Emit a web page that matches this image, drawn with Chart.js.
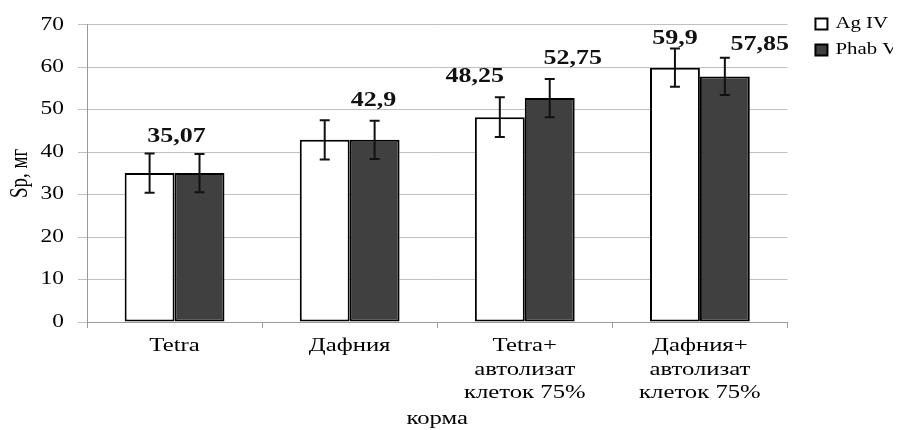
<!DOCTYPE html>
<html>
<head>
<meta charset="utf-8">
<script src="https://cdn.jsdelivr.net/npm/chart.js@4/dist/chart.umd.min.js"></script>
<style>
  html, body { margin: 0; padding: 0; background: #fff; }
  #wrap { width: 913px; height: 430px; }
</style>
</head>
<body>
<div id="wrap"><canvas id="c" width="913" height="430"></canvas></div>
<script>
// Feed types (x categories), one entry per group, split into lines
const categories = [
  ['Tetra'],
  ['Дафния'],
  ['Tetra+', 'автолизат', 'клеток 75%'],
  ['Дафния+', 'автолизат', 'клеток 75%']
];
const seriesNames = ['Ag IV', 'Phab V'];

// Sp, мг per feed
const agIV  = [35.07, 42.9, 48.25, 59.9];
const phabV = [35.07, 42.9, 52.75, 57.85];

// error bar half-widths
const agIVErr  = [4.6, 4.6, 4.7, 4.5];
const phabVErr = [4.5, 4.5, 4.5, 4.4];

// which values get a printed label
const agIVLabeled  = [false, false, true, true];
const phabVLabeled = [true, true, true, true];

const yTicks = [0, 10, 20, 30, 40, 50, 60, 70];
const yTitle = 'Sp, мг';
const xTitle = 'корма';

// label placement relative to the top of each error bar, in px [dx, dy]
const labelNudge = [
  [[0, 0], [0, 0], [-25, -20], [0, -10]],
  [[-23, -17], [-1, -20], [23, -20], [35, -13]]
];

const SERIF = '"Liberation Serif", "Times New Roman", serif';
const TEXT_WIDEN = 1.3;   // horizontal glyph stretch, in screen space

const errors = [agIVErr, phabVErr];
const labeled = [agIVLabeled, phabVLabeled];

const fmt = v => String(v).replace('.', ',');

// Every text run is widened horizontally around its own anchor point,
// whatever rotation is active (so rotated titles get wider glyphs, not longer).
const canvas = document.getElementById('c');
const ctx2d = canvas.getContext('2d');
const baseFillText = ctx2d.fillText.bind(ctx2d);
ctx2d.fillText = function (text, x, y, maxWidth) {
  const m = this.getTransform();
  const p = m.transformPoint(new DOMPoint(x, y));
  const wide = new DOMMatrix()
    .translate(p.x, p.y)
    .scale(TEXT_WIDEN, 1)
    .translate(-p.x, -p.y)
    .multiply(m);
  this.save();
  this.setTransform(wide);
  if (maxWidth !== undefined) baseFillText(text, x, y, maxWidth);
  else baseFillText(text, x, y);
  this.restore();
};

const legendShift = {
  id: 'legendShift',
  afterLayout(chart) {
    const l = chart.legend;
    if (!l) return;
    const dx = 18, dy = -16;
    l.left += dx; l.right += dx;
    l.top += dy; l.bottom += dy;
  }
};

const errorBars = {
  id: 'errorBars',
  afterDatasetsDraw(chart) {
    const { ctx, scales: { y } } = chart;
    ctx.save();
    ctx.strokeStyle = '#111';
    ctx.lineWidth = 2;
    chart.data.datasets.forEach((ds, di) => {
      const meta = chart.getDatasetMeta(di);
      meta.data.forEach((bar, i) => {
        const v = ds.data[i], e = errors[di][i];
        const x = bar.x;
        const yTop = y.getPixelForValue(v + e);
        const yBot = y.getPixelForValue(v - e);
        ctx.beginPath();
        ctx.moveTo(x, yTop); ctx.lineTo(x, yBot);
        ctx.moveTo(x - 5, yTop); ctx.lineTo(x + 5, yTop);
        ctx.moveTo(x - 5, yBot); ctx.lineTo(x + 5, yBot);
        ctx.stroke();
      });
    });
    ctx.restore();
  }
};

const valueLabels = {
  id: 'valueLabels',
  afterDatasetsDraw(chart) {
    const { ctx, scales: { y } } = chart;
    ctx.save();
    ctx.font = 'bold 20px ' + SERIF;
    ctx.fillStyle = '#111';
    ctx.textAlign = 'center';
    ctx.textBaseline = 'middle';
    chart.data.datasets.forEach((ds, di) => {
      const meta = chart.getDatasetMeta(di);
      meta.data.forEach((bar, i) => {
        if (!labeled[di][i]) return;
        const v = ds.data[i];
        const [dx, dy] = labelNudge[di][i];
        const yTop = y.getPixelForValue(v + errors[di][i]);
        ctx.fillText(fmt(v), bar.x + dx, yTop + dy);
      });
    });
    ctx.restore();
  }
};

new Chart(canvas, {
  type: 'bar',
  data: {
    labels: categories,
    datasets: [
      {
        label: seriesNames[0],
        data: agIV,
        backgroundColor: '#ffffff',
        borderColor: '#000000',
        borderWidth: 2,
        borderSkipped: false
      },
      {
        label: seriesNames[1],
        data: phabV,
        backgroundColor: '#404040',
        borderColor: '#000000',
        borderWidth: 2,
        borderSkipped: false
      }
    ]
  },
  options: {
    responsive: false,
    animation: false,
    devicePixelRatio: 1,
    font: { family: SERIF, size: 18 },
    layout: { padding: { top: 22, right: 38, left: 0, bottom: 0 } },
    datasets: { bar: { barPercentage: 1, categoryPercentage: 0.57 } },
    plugins: {
      tooltip: { enabled: false },
      legend: {
        position: 'right',
        align: 'start',
        labels: {
          color: '#000',
          font: { family: SERIF, size: 16 },
          boxWidth: 12,
          boxHeight: 11,
          padding: 10
        }
      }
    },
    scales: {
      x: {
        offset: true,
        grid: {
          display: true,
          offset: true,
          drawOnChartArea: false,
          tickLength: 6,
          color: '#9a9a9a'
        },
        border: { color: '#9a9a9a', width: 1 },
        ticks: {
          color: '#000',
          padding: 6,
          maxRotation: 0,
          autoSkip: false,
          font: { family: SERIF, size: 19, lineHeight: 1.25 }
        },
        title: {
          display: true,
          text: xTitle,
          color: '#000',
          font: { family: SERIF, size: 19, lineHeight: 1.2 },
          padding: { top: 0, bottom: 0 }
        },
        afterFit(s) { s.height = 108; }
      },
      y: {
        min: 0,
        max: 70,
        afterBuildTicks(s) { s.ticks = yTicks.map(v => ({ value: v })); },
        grid: { color: '#c0c0c0', tickLength: 9, lineWidth: 1 },
        border: { color: '#9a9a9a', width: 1 },
        ticks: {
          color: '#000',
          padding: 14,
          font: { family: SERIF, size: 18 }
        },
        title: {
          display: true,
          text: yTitle,
          color: '#000',
          font: { family: SERIF, size: 19, lineHeight: 1.2 },
          padding: { top: 9, bottom: 0 }
        },
        afterFit(s) { s.width = 87; }
      }
    }
  },
  plugins: [legendShift, errorBars, valueLabels]
});
</script>
</body>
</html>
